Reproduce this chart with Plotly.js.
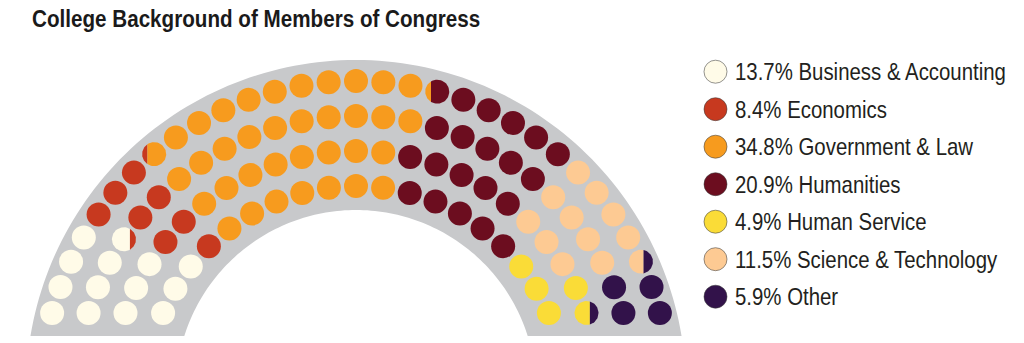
<!DOCTYPE html>
<html><head><meta charset="utf-8">
<script src="https://cdn.plot.ly/plotly-3.0.1.min.js"></script>
<style>html,body{margin:0;padding:0;background:#fff;} #chart{width:1024px;height:343px;}</style>
</head><body><div id="chart"></div>
<script>
const titleText = 'College Background of Members of Congress';
const categories = ['Business & Accounting','Economics','Government & Law','Humanities','Human Service','Science & Technology','Other'];
const shares = [13.7, 8.4, 34.8, 20.9, 4.9, 11.5, 5.9];
const colors = ['#FFFBE8','#C7391F','#F79B1E','#6C0D1F','#FADC37','#FDCA93','#32124A'];

// Seats of each row, read left to right:
// [category, count]  or a split seat [leftCategory, rightCategory, leftShareOfWidth]
const row1Seats = [[0,3],[1,1],[2,7],[3,5],[4,3]];                                    // inner row
const row2Seats = [[0,3],[1,2],[2,8],[3,5],[5,3],[4,1],[4,6,0.64]];
const row3Seats = [[0,3],[0,1,0.75],[1,2],[2,10],[3,5],[5,4],[6,2]];
const row4Seats = [[0,4],[1,3],[1,2,0.22],[2,10],[2,3,0.24],[3,5],[5,4],[5,6,0.61],[6,2]]; // outer row

// ---- geometry (units: 1 unit = 35 px) ----
const FONT = 'Liberation Sans, Arial, sans-serif';
const W = 1024, H = 343, PXU = 35, CX = 356, CY = 396;
const rows = [row1Seats, row2Seats, row3Seats, row4Seats];
const rowRadius = [6, 7, 8, 9];
const baseV = 83 / PXU;
const dotR = 12 / PXU;

const full = categories.map(() => ({x: [], y: []}));
const splitTraces = [];

function segPoly(cx, cy, R, from, to) {
  const xs = [], ys = [], N = 40;
  for (let i = 0; i <= N; i++) {
    const p = from + (to - from) * i / N;
    xs.push(cx + R * Math.cos(p)); ys.push(cy + R * Math.sin(p));
  }
  xs.push(xs[0]); ys.push(ys[0]);
  return {xs, ys};
}
function addPoly(poly, color) {
  splitTraces.push({type: 'scatter', mode: 'lines', x: poly.xs, y: poly.ys, fill: 'toself',
    fillcolor: color, line: {width: 0, color: color}, hoverinfo: 'skip', showlegend: false});
}

rows.forEach((runs, ri) => {
  const seats = [];
  runs.forEach(r => {
    if (r.length === 2) for (let k = 0; k < r[1]; k++) seats.push({c: r[0]});
    else seats.push({a: r[0], b: r[1], f: r[2]});
  });
  const R = rowRadius[ri], n = seats.length;
  const a0 = Math.asin(baseV / R);
  seats.forEach((s, k) => {
    const th = a0 + k * (Math.PI - 2 * a0) / (n - 1);
    const x = -R * Math.cos(th), y = R * Math.sin(th);
    if (s.c !== undefined) { full[s.c].x.push(x); full[s.c].y.push(y); }
    else {
      const d = -dotR + 2 * s.f * dotR;
      const al = Math.acos(d / dotR);
      addPoly(segPoly(x, y, dotR, al, 2 * Math.PI - al), colors[s.a]);
      addPoly(segPoly(x, y, dotR, -al, al), colors[s.b]);
    }
  });
});

const traces = full.map((t, i) => ({
  type: 'scatter', mode: 'markers', name: categories[i], x: t.x, y: t.y,
  marker: {size: 24, color: colors[i], line: {width: 0}}, hoverinfo: 'skip', showlegend: false
})).concat(splitTraces);

// grey background band
const bgC = 6 / PXU, bgRo = 330 / PXU, bgRi = 180 / PXU, bgBottom = 60 / PXU;
function bandPath() {
  const pts = [], N = 120;
  const po = Math.asin((bgBottom - bgC) / bgRo), pi0 = Math.asin((bgBottom - bgC) / bgRi);
  for (let i = 0; i <= N; i++) { const p = po + (Math.PI - 2 * po) * i / N; pts.push([bgRo * Math.cos(p), bgC + bgRo * Math.sin(p)]); }
  for (let i = 0; i <= N; i++) { const p = Math.PI - pi0 - (Math.PI - 2 * pi0) * i / N; pts.push([bgRi * Math.cos(p), bgC + bgRi * Math.sin(p)]); }
  return 'M' + pts.map(p => p[0].toFixed(4) + ',' + p[1].toFixed(4)).join(' L') + ' Z';
}
const shapes = [{type: 'path', xref: 'x', yref: 'y', path: bandPath(), fillcolor: '#C8C9CB', line: {width: 0}, layer: 'below'}];
const annotations = [];
categories.forEach((c, i) => {
  const cy = 71.7 + i * 37.5;
  shapes.push({type: 'circle', xref: 'paper', yref: 'paper', x0: 704 / W, x1: 727 / W,
    y0: 1 - (cy + 11.5) / H, y1: 1 - (cy - 11.5) / H, fillcolor: colors[i],
    line: {width: 1, color: 'rgba(60,60,60,0.55)'}});
  annotations.push({xref: 'paper', yref: 'paper', x: 733 / W, y: 1 - cy / H, xanchor: 'left', yanchor: 'middle',
    align: 'left', showarrow: false, text: shares[i].toFixed(1) + '% ' + c.replace('&', '&amp;'),
    font: {family: FONT, size: 24, color: '#231F20'}});
});

const layout = {
  width: W, height: H, autosize: false, margin: {l: 0, r: 0, t: 0, b: 0},
  paper_bgcolor: '#fff', plot_bgcolor: 'rgba(0,0,0,0)', showlegend: false,
  title: {text: titleText, x: 32 / W, xanchor: 'left', xref: 'container', y: 1 - 19 / H, yref: 'container',
    yanchor: 'middle', font: {family: FONT, size: 24, weight: 'bold', color: '#1A1A1A'}},
  xaxis: {range: [-CX / PXU, (W - CX) / PXU], visible: false, fixedrange: true},
  yaxis: {range: [(CY - H) / PXU, CY / PXU], visible: false, fixedrange: true},
  shapes, annotations, hovermode: false
};

// condensed look: narrow the real text horizontally about its left edge
function squeeze(el, k) {
  const x0 = el.getBBox().x;
  const prev = el.getAttribute('transform') || '';
  el.setAttribute('transform', prev + ' translate(' + x0 + ',0) scale(' + k + ',1) translate(' + (-x0) + ',0)');
}
Plotly.newPlot('chart', traces, layout, {staticPlot: true, displayModeBar: false}).then(gd => {
  gd.querySelectorAll('text.annotation-text').forEach(el => squeeze(el, 0.85));
  const t = gd.querySelector('text.gtitle');
  if (t) squeeze(t, 0.86);
});
</script></body></html>
